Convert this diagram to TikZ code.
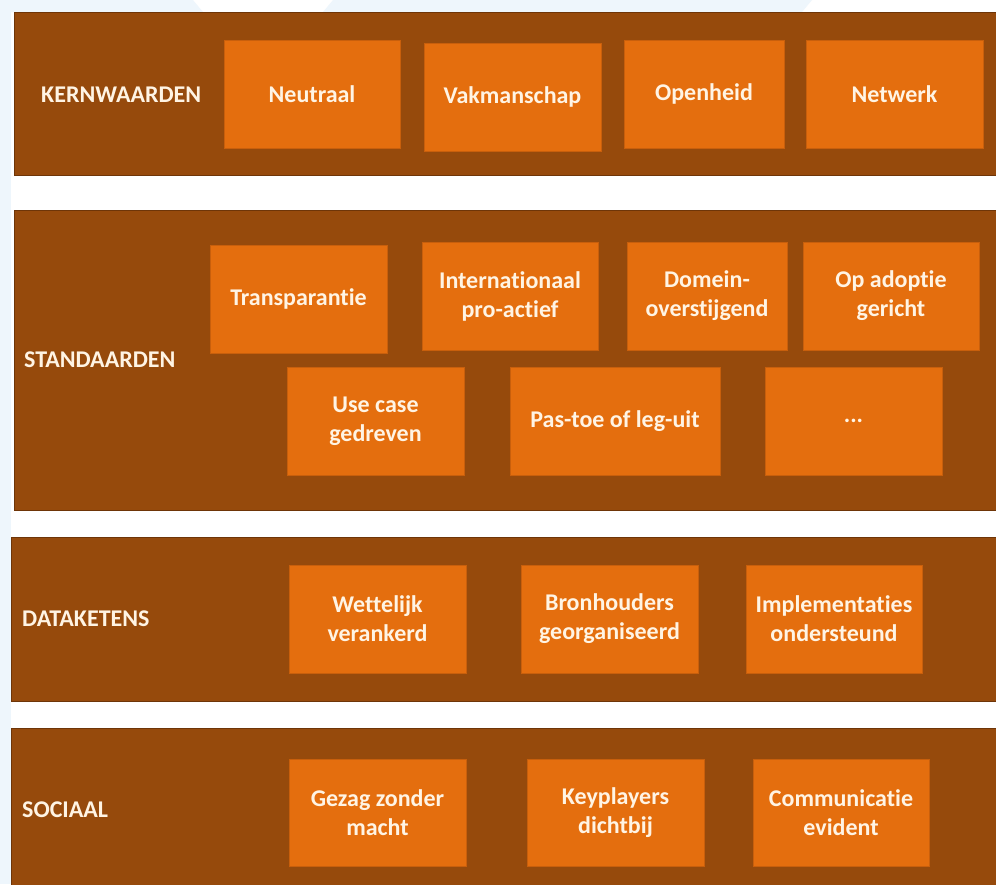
\documentclass[tikz,border=0pt]{standalone}
\usepackage{fontspec}
\setmainfont{Carlito}[Ligatures={NoCommon,NoDiscretionary,NoContextual}]
\definecolor{bandc}{HTML}{964A0C}
\definecolor{bandedge}{HTML}{6E3508}
\definecolor{boxc}{HTML}{E46E0E}
\definecolor{boxedge}{HTML}{C85F0C}
\definecolor{txtc}{HTML}{FFF4E4}
\definecolor{bgblue}{HTML}{EEF6FC}
\begin{document}
\begin{tikzpicture}[x=1pt,y=-1pt,
  band/.style={fill=bandc,draw=bandedge,line width=0.8pt},
  stdbox/.style={rectangle,fill=boxc,draw=boxedge,line width=0.6pt,inner sep=0pt,
    minimum height=108pt,align=center,text=txtc,
    font=\fontsize{24}{29}\selectfont\bfseries},
  lbl/.style={anchor=base west,inner sep=0pt,text=txtc,font=\fontsize{24}{29}\selectfont\bfseries}]
\useasboundingbox (0,0) rectangle (996,884);
\fill[white] (0,0) rectangle (996,884);
% faint blue background pieces
\fill[bgblue] (0,0) -- (193,0) -- (203,12) -- (0,12) -- cycle;
\fill[bgblue] (333,0) -- (812,0) -- (802,12) -- (323,12) -- cycle;
\fill[bgblue] (0,0) rectangle (11,884);
% bands
\path[band] (14,12) rectangle (996,175);
\path[band] (14,210) rectangle (996,510);
\path[band] (11,537) rectangle (996,701);
\path[band] (11,728) rectangle (997,885);
% labels
\node[lbl] (kern) at (41,102) {KERNWAARDEN};
\node[lbl] (stand) at (24,367) {STANDAARDEN};
\node[lbl] (data) at (22,626) {DATAKETENS};
\node[lbl] (soc) at (22,817) {SOCIAAL};
% kernwaarden
\node[stdbox,minimum width=176pt] (k1) at (312,94) {Neutraal};
\node[stdbox,minimum width=177pt] (k2) at (512.5,97) {Vakmanschap};
\node[stdbox,minimum width=160pt] (k3) at (704,94) {Openheid};
\node[stdbox,minimum width=177pt] (k4) at (894.5,94) {Netwerk};
% standaarden
\node[stdbox,minimum width=177pt] (s1) at (298.5,299) {Transparantie};
\node[stdbox,minimum width=176pt] (s2) at (510,296) {Internationaal\\pro-actief};
\node[stdbox,minimum width=160pt] (s3) at (707,296) {Domein-\\overstijgend};
\node[stdbox,minimum width=176pt] (s4) at (891,296) {Op adoptie\\gericht};
\node[stdbox,minimum width=177pt] (s5) at (375.5,421) {Use case\\gedreven};
\node[stdbox,minimum width=210pt] (s6) at (615,421) {Pas-toe of leg-uit};
\node[stdbox,minimum width=177pt] (s7) at (853.5,421) {...};
% dataketens
\node[stdbox,minimum width=177pt] (d1) at (377.5,619) {Wettelijk\\verankerd};
\node[stdbox,minimum width=177pt] (d2) at (609.5,619) {Bronhouders\\georganiseerd};
\node[stdbox,minimum width=176pt] (d3) at (834,619) {Implementaties\\ondersteund};
% sociaal
\node[stdbox,minimum width=177pt,minimum height=107pt] (o1) at (377.5,812.5) {Gezag zonder\\macht};
\node[stdbox,minimum width=177pt,minimum height=107pt] (o2) at (615.5,812.5) {Keyplayers\\dichtbij};
\node[stdbox,minimum width=176pt,minimum height=107pt] (o3) at (841,812.5) {Communicatie\\evident};
\end{tikzpicture}
\end{document}
